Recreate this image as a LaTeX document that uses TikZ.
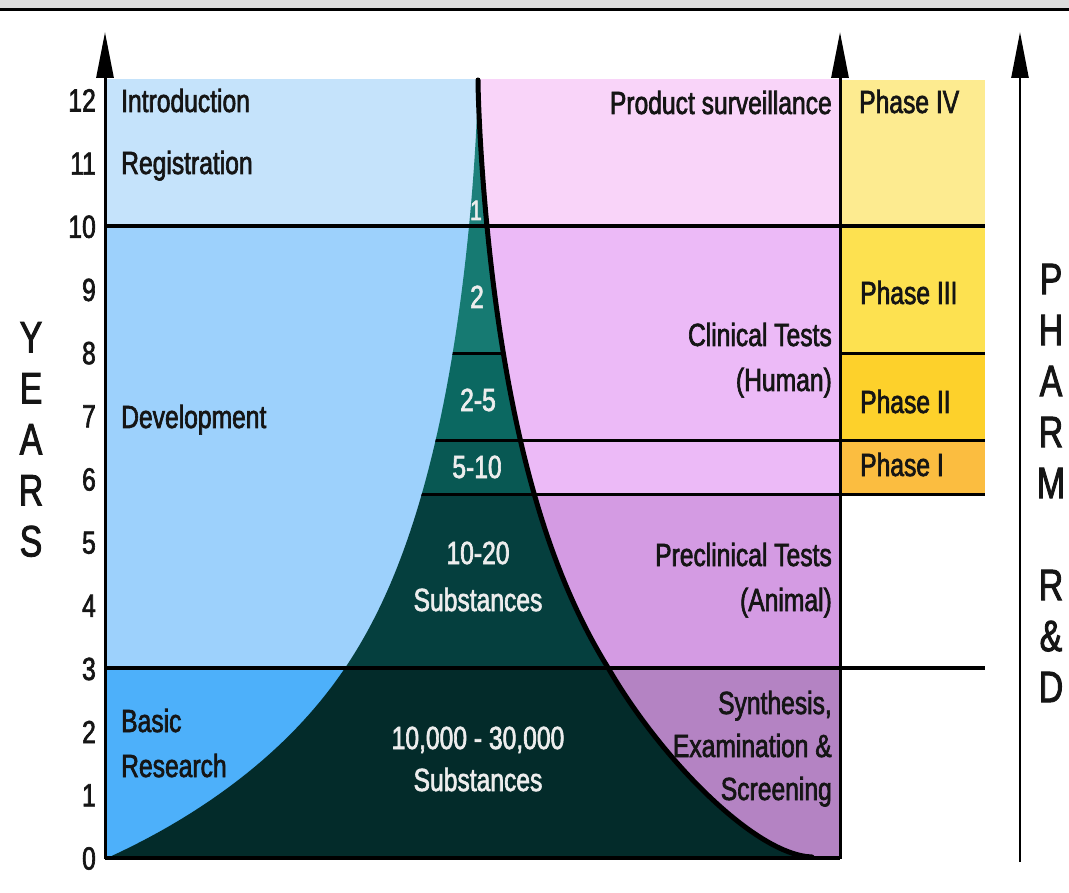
\documentclass[tikz,border=0pt]{standalone}
\usepackage{fontspec}
\setmainfont{Liberation Sans}[FakeStretch=0.77, RawFeature={embolden=2}]
\usetikzlibrary{arrows.meta}
\definecolor{topgray}{HTML}{DCDCDC}
\definecolor{txt}{HTML}{151515}
\definecolor{blueA}{HTML}{C5E3FB}
\definecolor{blueB}{HTML}{9DD1FC}
\definecolor{blueC}{HTML}{4DB0FA}
\definecolor{pinkA}{HTML}{F9D4F9}
\definecolor{pinkB}{HTML}{ECBAF7}
\definecolor{pinkC}{HTML}{D49BE3}
\definecolor{pinkD}{HTML}{B483C3}
\definecolor{yelA}{HTML}{FDEB90}
\definecolor{yelB}{HTML}{FDE150}
\definecolor{yelC}{HTML}{FDD12B}
\definecolor{yelD}{HTML}{FBBD40}
\definecolor{funA}{HTML}{1E807B}
\definecolor{funB}{HTML}{167A72}
\definecolor{funC}{HTML}{0B6861}
\definecolor{funD}{HTML}{085853}
\definecolor{funE}{HTML}{053F3E}
\definecolor{funF}{HTML}{032B2A}
% half-width of the funnel (in px) as a function of years
\pgfmathdeclarefunction{fw}{1}{\pgfmathparse{37.9*(12.31-#1)^1.4/(#1+3.6)}}
\pgfmathdeclarefunction{fcl}{1}{\pgfmathparse{17*exp(-0.2*#1*#1)}}
\begin{document}
\begin{tikzpicture}[x=1pt,y=-1pt,
  tx/.style={inner sep=0pt, text=txt, font=\fontsize{32}{44}\selectfont},
  wt/.style={tx, text=white!93!black},
  big/.style={inner sep=0pt, text=txt, align=center, font=\fontsize{44}{51}\selectfont},
  hline/.style={line width=4pt, black},
  sline/.style={line width=3pt, black},
  axisline/.style={line width=3pt, black, -{Triangle[length=46pt,width=17pt]}}]
\useasboundingbox (0,0) rectangle (1069,893);
\fill[white] (0,0) rectangle (1069,893);
% top frame band
\fill[topgray] (0,0) rectangle (1069,8);
\draw[line width=3pt] (0,9.5) -- (1069,9.5);
% blue (left) bands
\fill[blueA] (105,79) rectangle (478,226);
\fill[blueB] (105,226) rectangle (478,668);
\fill[blueC] (105,668) rectangle (478,858);
% pink (right) bands
\fill[pinkA] (478,79) rectangle (840,226);
\fill[pinkB] (478,226) rectangle (840,494);
\fill[pinkC] (478,494) rectangle (840,668);
\fill[pinkD] (478,668) rectangle (840,858);
% phases column
\fill[yelA] (840,80) rectangle (985,226);
\fill[yelB] (840,226) rectangle (985,354);
\fill[yelC] (840,354) rectangle (985,440);
\fill[yelD] (840,440) rectangle (985,494);
% funnel
\begin{scope}
\clip plot[domain=0:12.28, samples=120] ({478-fw(\x)-fcl(\x)}, {858-63.17*\x}) -- (478,80)
  -- plot[domain=0:9.28, samples=100] ({478+fw(12.28-\x)}, {858-63.17*(12.28-\x)})
  .. controls (660.7,758.5) and (755,855) .. (812,857) -- cycle;
\fill[funA] (100,70) rectangle (850,226);
\fill[funB] (100,226) rectangle (850,354);
\fill[funC] (100,354) rectangle (850,440);
\fill[funD] (100,440) rectangle (850,494);
\fill[funE] (100,494) rectangle (850,668);
\fill[funF] (100,668) rectangle (850,860);
\draw[sline] (100,354) -- (850,354);
\draw[sline] (100,440) -- (850,440);
\draw[sline] (100,494) -- (850,494);
\end{scope}
% funnel right edge
\draw[line width=5pt, line cap=round] (478,80)
  -- plot[domain=0:9.28, samples=100] ({478+fw(12.28-\x)}, {858-63.17*(12.28-\x)})
  .. controls (660.7,758.5) and (755,855) .. (812,857);
% horizontal rules
\draw[hline] (105,226) -- (985,226);
\draw[hline] (105,668) -- (985,668);
\draw[sline] (840,354) -- (985,354);
\draw[sline] (478,440) -- (985,440);
\draw[sline] (478,494) -- (985,494);
\draw[line width=3.5pt] (105,858) -- (840,858);
% axes
\draw[axisline] (105,859) -- (105,32);
\draw[axisline] (840,859) -- (840,32);
\draw[line width=2.5pt, -{Triangle[length=46pt,width=17pt]}] (1020,862) -- (1020,32);
% year ticks
\foreach \i in {0,...,12}
  \node[tx, anchor=base east] (yr\i) at (96, {869.5 - 63.17*\i}) {\i};
% side titles
\node[big] (years) at (31,439.5) {Y\\E\\A\\R\\S};
\node[big] (pharm) at (1051,483) {P\\H\\A\\R\\M\\~\\R\\\&\\D};
% left labels
\node[tx, anchor=base west] (intro) at (121,112) {Introduction};
\node[tx, anchor=base west] (regis) at (121,174) {Registration};
\node[tx, anchor=base west] (devel) at (121,428) {Development};
\node[tx, anchor=base west] (basic1) at (121,732) {Basic};
\node[tx, anchor=base west] (basic2) at (121,777) {Research};
% funnel labels
\node[wt, anchor=base, font=\fontsize{28}{32}\selectfont] (f1) at (476,220) {1};
\node[wt, anchor=base] (f2) at (477,308) {2};
\node[wt, anchor=base] (f3) at (478,411) {2-5};
\node[wt, anchor=base] (f4) at (477,478) {5-10};
\node[wt, anchor=base] (f5a) at (478,564) {10-20};
\node[wt, anchor=base] (f5b) at (478,611) {Substances};
\node[wt, anchor=base] (f6a) at (478,749) {10,000 - 30,000};
\node[wt, anchor=base] (f6b) at (478,791) {Substances};
% right labels
\node[tx, anchor=base east] (prod) at (832,114) {Product surveillance};
\node[tx, anchor=base east] (clin1) at (832,346) {Clinical Tests};
\node[tx, anchor=base east] (clin2) at (832,391) {(Human)};
\node[tx, anchor=base east] (pre1) at (832,566) {Preclinical Tests};
\node[tx, anchor=base east] (pre2) at (832,611) {(Animal)};
\node[tx, anchor=base east] (syn1) at (832,714) {Synthesis,};
\node[tx, anchor=base east] (syn2) at (832,757) {Examination \&};
\node[tx, anchor=base east] (syn3) at (832,800) {Screening};
% phases
\node[tx, anchor=base west] (ph4) at (859,113) {Phase IV};
\node[tx, anchor=base west] (ph3) at (860,304) {Phase III};
\node[tx, anchor=base west] (ph2) at (860,413) {Phase II};
\node[tx, anchor=base west] (ph1) at (860,476) {Phase I};
\end{tikzpicture}
\end{document}
